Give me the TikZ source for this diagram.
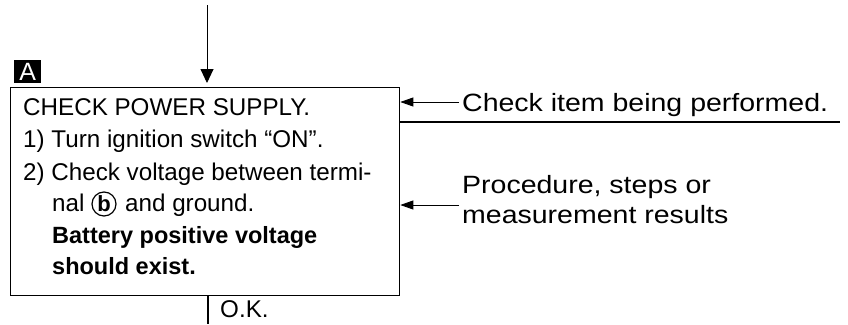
\documentclass[tikz,border=0pt]{standalone}
\usepackage{fontspec}
\setmainfont{Liberation Sans}
\newfontfamily\labfont[FakeStretch=1.14]{Liberation Sans}
\usetikzlibrary{arrows.meta}
\begin{document}
\begin{tikzpicture}[x=1pt,y=-1pt,
  boxtext/.style={anchor=base west, inner sep=0pt, font=\fontsize{24.2}{28}\selectfont},
  boldtext/.style={boxtext, font=\fontsize{23.5}{28}\selectfont\bfseries},
  lab/.style={anchor=base west, inner sep=0pt, font=\labfont\fontsize{25}{30}\selectfont, align=left},
  frame/.style={draw, line width=1.3pt},
  bigarrow/.style={line width=0.9pt, -{Triangle[length=14pt,width=13pt]}},
  smallarrow/.style={line width=0.9pt, -{Triangle[length=13pt,width=9pt]}},
  thin/.style={line width=1.1pt}]
\useasboundingbox (0,0) rectangle (848,324);
% main box
\node[frame, minimum width=389pt, minimum height=208pt, inner sep=0pt, anchor=north west] (box) at (10,87) {};
% tag A
\node[fill=black, text=white, minimum width=27pt, minimum height=23pt, inner sep=0pt, anchor=north west, font=\fontsize{25}{25}\selectfont] (tagA) at (14,60) {A};
% incoming arrow
\coordinate (in) at (207,5);
\draw[bigarrow, shorten >=4pt] (in) -- (box.north -| in);
% box text
\node[boxtext] (l1) at (23,115) {CHECK POWER SUPPLY.};
\node[boxtext] (l2) at (23,147) {1) Turn ignition switch “ON”.};
\node[boxtext] (l3) at (23,180) {2) Check voltage between termi-};
\node[boxtext] (l4a) at (52,211) {nal};
\node[circle, draw, line width=1.2pt, inner sep=0pt, minimum size=24pt, font=\fontsize{22}{22}\selectfont\bfseries] (cb) at (104,204) {b};
\node[boxtext] (l4b) at (125,211) {and ground.};
\node[boldtext] (l5) at (52,243) {Battery positive voltage};
\node[boldtext] (l6) at (52,274) {should exist.};
% O.K. outgoing
\coordinate (okend) at (208,324);
\draw[thin] (box.south -| okend) -- (okend);
\node[boxtext] (ok) at (220,317) {O.K.};
% right labels
\node[lab] (lab1) at (462,111) {Check item being performed.};
\coordinate (a1) at (459,102);
\draw[smallarrow] (a1) -- (a1 -| box.east);
\coordinate (sep) at (840,122);
\draw[thin] (box.east |- sep) -- (sep);
\node[lab] (lab2) at (462,223) {Procedure, steps or\\measurement results};
\coordinate (a2) at (459,205);
\draw[smallarrow] (a2) -- (a2 -| box.east);
\end{tikzpicture}
\end{document}
